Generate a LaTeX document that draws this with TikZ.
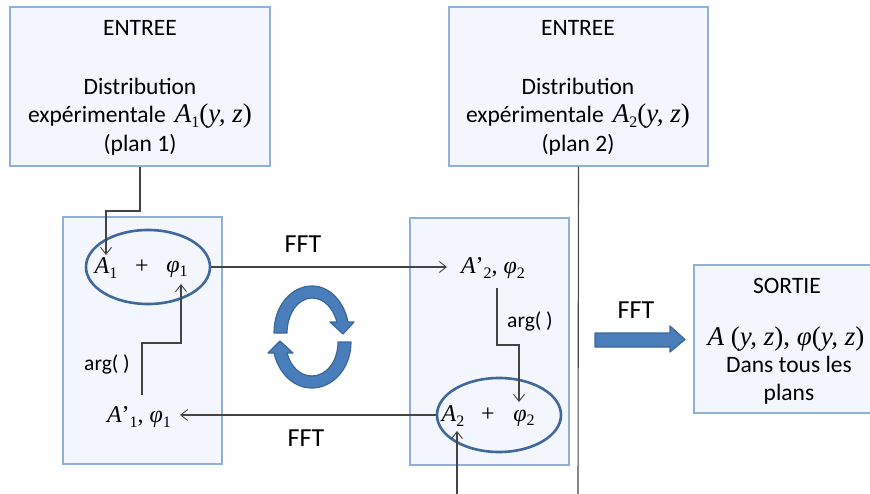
\documentclass[tikz,border=0pt]{standalone}
\usepackage{fontspec}
\setmainfont{Carlito}
\newfontfamily\mathserif{Liberation Serif}[Ligatures=TeX]
\usetikzlibrary{arrows.meta,shapes.geometric}
\definecolor{boxfill}{HTML}{F3F6FC}
\definecolor{boxline}{HTML}{8FB0D8}
\definecolor{ringline}{HTML}{41689A}
\definecolor{bluefill}{HTML}{4A7EBB}
\definecolor{blueline}{HTML}{3A669A}
\definecolor{wire}{HTML}{444444}
\newcommand{\vi}[1]{{\mathserif\itshape #1}}
\newcommand{\vr}[1]{{\mathserif #1}}
\newcommand{\sbs}[1]{\raisebox{-0.2em}{\mathserif\fontsize{16}{16}\selectfont #1}}
\newcommand{\phis}{\vi{φ}}
\newcommand{\mysize}{\fontsize{27}{28}\selectfont}
\tikzset{
  panel/.style={draw=boxline,fill=boxfill,line width=1.1pt,inner sep=0pt},
  ring/.style={draw=ringline,line width=2.6pt,ellipse,minimum width=124pt,minimum height=74pt,inner sep=0pt},
  wirel/.style={draw=wire,line width=1.1pt},
  wirea/.style={wirel,-{Straight Barb[length=7pt,width=11pt,line width=0.9pt]}},
  txt/.style={font=\fontsize{23.5}{28}\selectfont,align=center,text=black,inner sep=0pt},
  lab/.style={font=\fontsize{26}{30}\selectfont,inner sep=0pt},
  small/.style={font=\fontsize{21.5}{25}\selectfont,inner sep=0pt},
  math/.style={font=\fontsize{24}{28}\selectfont,inner sep=0pt},
  bigblue/.style={fill=bluefill,draw=blueline,line width=1.2pt,line join=round}
}
\begin{document}
\begin{tikzpicture}[x=1pt,y=-1pt]
\useasboundingbox (0,0) rectangle (870,494);
\node[panel,minimum width=260pt,minimum height=159pt] (in1) at (140,86.5) {};
\node[panel,minimum width=259pt,minimum height=159pt] (in2) at (578.5,86.5) {};
\node[panel,minimum width=159pt,minimum height=247pt] (p1) at (142.5,340.5) {};
\node[panel,minimum width=159pt,minimum height=247pt] (p2) at (489.5,341.5) {};
\node[panel,minimum width=180pt,minimum height=148pt] (out) at (784,339) {};

\node[txt] (t1a) at (140,28) {ENTREE};
\node[txt] (t1b) at (140,86) {Distribution};
\node[txt] (t1c) at (140,116) {expérimentale\, {\mysize\vi{A}\sbs{1}\vr{(}\vi{y, z}\vr{)}}};
\node[txt] (t1d) at (140,145) {(plan 1)};
\node[txt] (t2a) at (578,28) {ENTREE};
\node[txt] (t2b) at (578,86) {Distribution};
\node[txt] (t2c) at (578,116) {expérimentale\, {\mysize\vi{A}\sbs{2}\vr{(}\vi{y, z}\vr{)}}};
\node[txt] (t2d) at (578,145) {(plan 2)};
\node[txt] (t3a) at (787,286) {SORTIE};
\node[txt] (t3b) at (786,339) {{\mysize\vi{A}\vr{ (}\vi{y, z}\vr{), }\phis\vr{(}\vi{y, z}\vr{)}}};
\node[txt] (t3c) at (789,364) {Dans tous les};
\node[txt] (t3d) at (789,394) {plans};

\node[ring] (e1) at (148,267) {};
\node[ring] (e2) at (499,415) {};
\node[math] (A1) at (106,268) {\vi{A}\sbs{1}};
\node[math] (plus1) at (142,267) {\vr{+}};
\node[math] (phi1) at (177,269) {\phis\sbs{1}};
\node[math] (A2) at (453,416) {\vi{A}\sbs{2}};
\node[math] (plus2) at (488,415) {\vr{+}};
\node[math] (phi2) at (524,418) {\phis\sbs{2}};
\node[math] (Ap2) at (493,268) {\vi{A}\vr{’}\sbs{2}\vr{, }\phis\sbs{2}};
\node[math] (Ap1) at (139,417) {\vi{A}\vr{’}\sbs{1}\vr{, }\phis\sbs{1}};

\node[lab] (fft1) at (303,244) {FFT};
\node[lab] (fft2) at (306,438) {FFT};
\node[lab] (fft3) at (636,310) {FFT};
\node[small] (arg1) at (107,364) {arg( )};
\node[small] (arg2) at (530,321) {arg( )};

\coordinate (b1) at (140,211);
\coordinate (b2) at (106,211);
\coordinate (b3) at (142,343);
\coordinate (b4) at (181,343);
\coordinate (b5) at (497,345);
\coordinate (b6) at (519,345);
\coordinate (f1) at (578,494);
\coordinate (f2) at (457,494);
\coordinate (tA1) at (106,255);
\coordinate (tphi1) at (181,284);
\coordinate (tphi2) at (519,402);
\coordinate (tA2) at (457,431);
\coordinate (sAp1) at (142,395);
\coordinate (sAp2) at (497,288);
\coordinate (tAp2) at (447,267);
\coordinate (tAp1) at (180,415);

\draw[wirea] (in1.south -| b1) -- (b1) -- (b2) -- (tA1);
\draw[wirea] (sAp1) -- (b3) -- (b4) -- (tphi1);
\draw[wirea] (e1.east) -- (tAp2);
\draw[wirea] (sAp2) -- (b5) -- (b6) -- (tphi2);
\draw[wirea] (e2.west) -- (tAp1);
\draw[wirea] (f2) -- (tA2);
\draw[wirel] (in2.south) -- (f1);

% cycle arrows
\path[bigblue] (274,333) .. controls (274,305) and (292,286) .. (312,286) .. controls (330,286) and (344,302) .. (348,322) -- (354,322) -- (343,334) -- (330,322) -- (337,322) .. controls (333,308) and (324,298) .. (312,298) .. controls (298,298) and (287,314) .. (287,333) -- cycle;
\path[bigblue] (351,342) .. controls (351,368) and (333,388) .. (312,388) .. controls (294,388) and (279,374) .. (274,353) -- (268,353) -- (280,341) -- (293,353) -- (287,353) .. controls (291,367) and (300,376) .. (312,376) .. controls (326,376) and (338,362) .. (338,342) -- cycle;
% FFT block arrow
\path[bigblue] (595,333) -- (670,333) -- (670,326) -- (685,339.5) -- (670,352) -- (670,347) -- (595,347) -- cycle;
\end{tikzpicture}
\end{document}
